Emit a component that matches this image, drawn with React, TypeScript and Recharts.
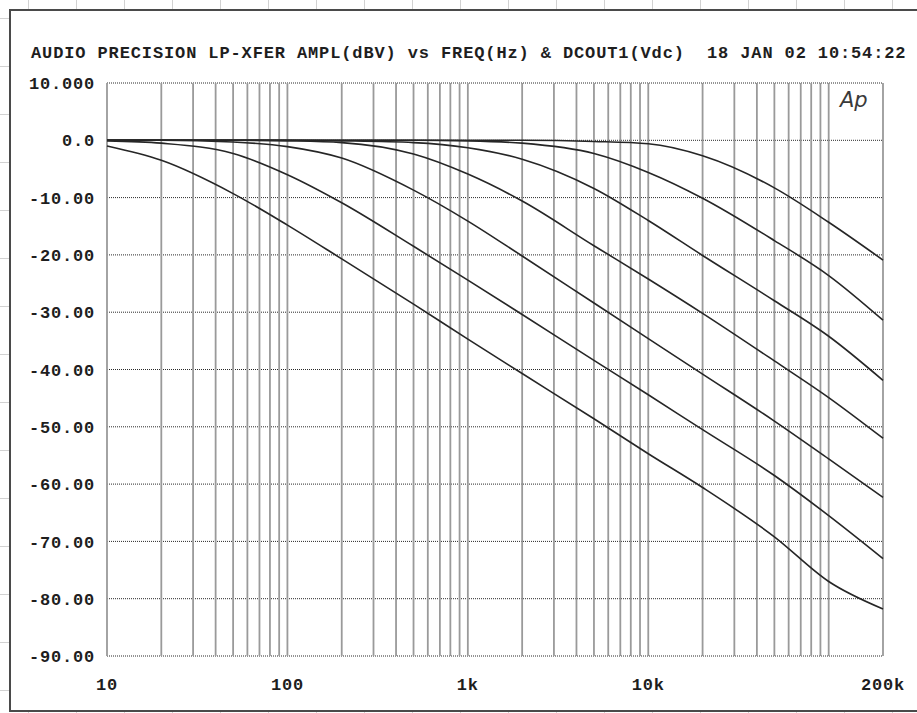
import React from 'react';
import { LineChart, Line, XAxis, YAxis, CartesianGrid, ReferenceLine } from 'recharts';

// Frequencies (Hz) the curves were read at
const FREQS = [10, 20, 50, 100, 200, 500, 1000, 2000, 5000, 10000, 20000, 50000, 100000, 200000];

// Response of each low-pass setting (dBV), highest corner first
const CURVE_A = [0, 0, 0, 0, 0, 0, 0, 0, -0.2, -0.6, -2.7, -8.3, -14.3, -20.9];
const CURVE_B = [0, 0, 0, 0, 0, 0, -0.1, -0.5, -2.3, -5.6, -10.1, -17.5, -23.6, -31.4];
const CURVE_C = [0, 0, 0, 0, -0.1, -0.4, -1.3, -3.3, -8.4, -14.0, -20.1, -28.0, -34.2, -41.9];
const CURVE_D = [0, 0, 0, -0.1, -0.4, -2.4, -5.9, -10.6, -18.4, -24.2, -30.2, -38.5, -44.9, -52.0];
const CURVE_E = [0, 0, -0.3, -1.1, -3.1, -8.7, -14.1, -20.2, -28.4, -34.6, -40.8, -49.0, -55.6, -62.3];
const CURVE_F = [-0.1, -0.5, -2.3, -6.0, -10.9, -18.5, -24.4, -30.4, -38.4, -44.4, -50.5, -58.5, -65.5, -73.0];
const CURVE_G = [-1.0, -3.5, -9.3, -14.8, -20.7, -28.6, -34.7, -40.7, -48.6, -54.7, -60.6, -69.2, -77.0, -81.8];

const SERIES = ['a', 'b', 'c', 'd', 'e', 'f', 'g'];
const CURVES = [CURVE_A, CURVE_B, CURVE_C, CURVE_D, CURVE_E, CURVE_F, CURVE_G];

const X_TICKS = [10, 100, 1000, 10000, 200000];
const X_TICK_LABELS = ['10', '100', '1k', '10k', '200k'];
const Y_TICKS = [10, 0, -10, -20, -30, -40, -50, -60, -70, -80, -90];
const Y_TICK_LABELS = ['10.000', '0.0', '-10.00', '-20.00', '-30.00', '-40.00', '-50.00', '-60.00', '-70.00', '-80.00', '-90.00'];

// log-decade grid lines, frame edges included
const GRID_FREQS = [
  10, 20, 30, 40, 50, 60, 70, 80, 90,
  100, 200, 300, 400, 500, 600, 700, 800, 900,
  1000, 2000, 3000, 4000, 5000, 6000, 7000, 8000, 9000,
  10000, 20000, 30000, 40000, 50000, 60000, 70000, 80000, 90000,
  100000, 200000,
];

const TITLE = 'AUDIO PRECISION LP-XFER AMPL(dBV) vs FREQ(Hz) & DCOUT1(Vdc)  18 JAN 02 10:54:22';

const data = FREQS.map((freq, i) => {
  const row: Record<string, number> = { freq };
  SERIES.forEach((k, j) => { row[k] = CURVES[j][i]; });
  return row;
});

const FONT = "'Liberation Mono', 'DejaVu Sans Mono', monospace";
const INK = '#1e1e1e';

const XTick = ({ x, y, payload }: any) => (
  <text x={x} y={y} textAnchor="middle" dy="0.72em" fontFamily={FONT} fontWeight="bold"
    fontSize={17} fill={INK} style={{ letterSpacing: '0.8px' }}>
    {X_TICK_LABELS[X_TICKS.indexOf(payload.value)]}
  </text>
);

const YTick = ({ x, y, payload }: any) => (
  <text x={x} y={y} textAnchor="end" dy="0.36em" fontFamily={FONT} fontWeight="bold"
    fontSize={17} fill={INK} style={{ letterSpacing: '0.8px' }}>
    {Y_TICK_LABELS[Y_TICKS.indexOf(payload.value)]}
  </text>
);

export default function App() {
  return (
    <div style={{
      position: 'absolute', left: 0, top: 0, width: 917, height: 713, overflow: 'hidden',
      backgroundColor: '#fff',
      backgroundImage: 'linear-gradient(to right, #d2d2d2 1px, transparent 1px), linear-gradient(to bottom, #d2d2d2 1px, transparent 1px)',
      backgroundSize: '48px 48px',
      backgroundPosition: '28px 18px',
    }}>
      {/* scanned plot frame */}
      <div style={{
        position: 'absolute', left: 9, top: 9, width: 930, height: 699,
        background: '#fff', border: '2px solid #4a4a4a',
      }} />
      <div style={{ position: 'absolute', left: 0, top: 0 }}>
        <LineChart width={917} height={713} data={data}
          margin={{ top: 83, right: 34, bottom: 0, left: 0 }}>
          <CartesianGrid vertical={false} stroke="#2a2a2a" strokeDasharray="1 1" />
          {GRID_FREQS.map((f) => (
            <ReferenceLine key={f} x={f} stroke="#9a9a9a" strokeWidth={1.8} />
          ))}
          <XAxis dataKey="freq" type="number" scale="log" domain={[10, 200000]}
            ticks={X_TICKS} tick={<XTick />} tickLine={false} axisLine={false}
            tickSize={0} tickMargin={22} height={57} interval={0} />
          <YAxis type="number" domain={[-90, 10]} ticks={Y_TICKS}
            tick={<YTick />} tickLine={false} axisLine={false} tickSize={0} tickMargin={12}
            width={107} interval={0} />
          {SERIES.map((k) => (
            <Line key={k} dataKey={k} type="monotone" stroke="#262626" strokeWidth={1.6}
              dot={false} isAnimationActive={false} />
          ))}
        </LineChart>
      </div>
      <svg width={917} height={713} style={{ position: 'absolute', left: 0, top: 0, pointerEvents: 'none' }}>
        <text x={31} y={58} fontFamily={FONT} fontWeight="bold" fontSize={17} fill={INK}
          style={{ letterSpacing: '0.88px', whiteSpace: 'pre' }}>
          {TITLE}
        </text>
        <text x={840} y={107} fontFamily="'DejaVu Sans', sans-serif" fontStyle="italic"
          fontWeight={300} fontSize={21} fill="#3a3a3a">
          Ap
        </text>
      </svg>
    </div>
  );
}
